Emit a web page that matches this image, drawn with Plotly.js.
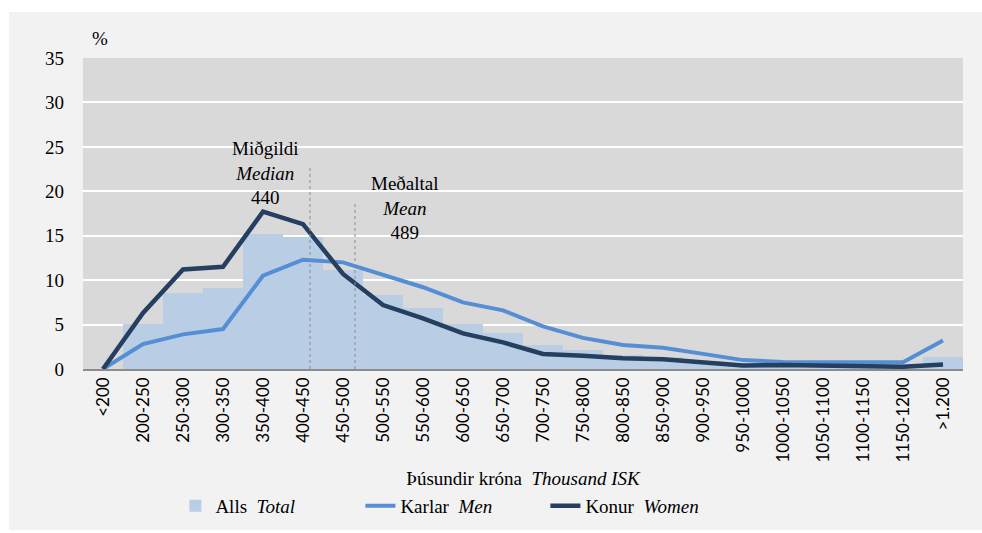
<!DOCTYPE html>
<html>
<head>
<meta charset="utf-8">
<script src="https://cdn.plot.ly/plotly-3.0.1.min.js"></script>
<style>
  html, body { margin: 0; padding: 0; background: #ffffff; width: 982px; height: 533px; overflow: hidden; }
  #chart { position: absolute; left: 9px; top: 12px; width: 973px; height: 518px; }
</style>
</head>
<body>
<div id="chart"></div>
<script>
// Categories (thousand ISK)
const categories = ["<200","200-250","250-300","300-350","350-400","400-450","450-500","500-550","550-600","600-650","650-700","700-750","750-800","800-850","850-900","900-950","950-1000","1000-1050","1050-1100","1100-1150","1150-1200",">1.200"];
// Alls / Total (%)
const totalValues = [0, 5.1, 8.6, 9.1, 15.2, 14.9, 11.1, 8.3, 6.9, 5.1, 4.1, 2.7, 2.1, 1.6, 1.3, 0.9, 0.6, 0.5, 0.4, 0.4, 0.3, 1.35];
// Karlar / Men (%)
const menValues = [0, 2.8, 3.9, 4.5, 10.5, 12.3, 12.0, 10.6, 9.2, 7.5, 6.6, 4.8, 3.5, 2.7, 2.4, 1.7, 1.0, 0.8, 0.75, 0.8, 0.75, 3.2];
// Konur / Women (%)
const womenValues = [0, 6.3, 11.2, 11.5, 17.7, 16.3, 10.7, 7.2, 5.7, 4.0, 3.0, 1.7, 1.5, 1.2, 1.1, 0.75, 0.4, 0.45, 0.4, 0.4, 0.25, 0.5];
// Median and mean labels
const medianValue = 440;
const meanValue = 489;

const serif = "Liberation Serif";
const sans = "Lato";

const traces = [
  {
    type: "bar", name: "Alls&nbsp;&nbsp;<i>Total</i>",
    x: categories, y: totalValues,
    marker: { color: "#b9cde5", line: { width: 0 } },
    hoverinfo: "skip"
  },
  {
    type: "scatter", mode: "lines", name: "Karlar&nbsp;&nbsp;<i>Men</i>",
    x: categories, y: menValues,
    line: { color: "#558ed5", width: 4 },
    hoverinfo: "skip"
  },
  {
    type: "scatter", mode: "lines", name: "Konur&nbsp;&nbsp;<i>Women</i>",
    x: categories, y: womenValues,
    line: { color: "#243f60", width: 4.5 },
    hoverinfo: "skip"
  }
];

const layout = {
  width: 973, height: 518,
  paper_bgcolor: "#f2f2f2",
  plot_bgcolor: "#d9d9d9",
  margin: { l: 74, r: 19, t: 46, b: 161, autoexpand: false },
  bargap: 0,
  showlegend: true,
  font: { family: serif, color: "#000000", size: 19 },
  xaxis: {
    type: "category",
    automargin: false,
    tickangle: -90,
    tickfont: { family: sans, size: 17, color: "#000000" },
    showgrid: false,
    showline: true, linecolor: "#8c8c8c", linewidth: 1.5,
    ticks: "",
    title: { text: "Þúsundir króna&nbsp;&nbsp;<i>Thousand ISK</i>", font: { family: serif, size: 19, color: "#000000" }, standoff: 10 },
    fixedrange: true
  },
  yaxis: {
    range: [0, 35], dtick: 5,
    automargin: false,
    tickfont: { family: serif, size: 19, color: "#000000" },
    showgrid: true, gridcolor: "#ffffff", gridwidth: 2,
    zeroline: false, showline: false,
    ticks: "", ticklabelstandoff: 18,
    fixedrange: true
  },
  legend: {
    orientation: "h",
    x: 0.105, xanchor: "left",
    y: -0.44, yanchor: "middle",
    entrywidth: 140, entrywidthmode: "pixels",
    font: { family: serif, size: 19, color: "#000000" },
    bgcolor: "rgba(0,0,0,0)",
    traceorder: "normal"
  },
  shapes: [
    { type: "line", xref: "x", yref: "y", x0: 5.175, x1: 5.175, y0: 0, y1: 22.7,
      line: { color: "#8c8c8c", width: 1, dash: "dot" } },
    { type: "line", xref: "x", yref: "y", x0: 6.3, x1: 6.3, y0: 0, y1: 18.9,
      line: { color: "#8c8c8c", width: 1, dash: "dot" } }
  ],
  annotations: [
    { xref: "paper", yref: "paper", x: 0.019, y: 1.064, text: "%", showarrow: false,
      font: { family: serif, size: 19, color: "#000000" }, xanchor: "center", yanchor: "middle" },
    { xref: "x", yref: "y", x: 4.05, y: 22.1, showarrow: false,
      text: "Miðgildi<br><i>Median</i><br>" + medianValue,
      font: { family: serif, size: 19, color: "#000000" }, xanchor: "center", yanchor: "middle", align: "center" },
    { xref: "x", yref: "y", x: 7.55, y: 18.1, showarrow: false,
      text: "Meðaltal<br><i>Mean</i><br>" + meanValue,
      font: { family: serif, size: 19, color: "#000000" }, xanchor: "center", yanchor: "middle", align: "center" }
  ]
};

Plotly.newPlot("chart", traces, layout, { staticPlot: true, displayModeBar: false });
</script>
</body>
</html>
